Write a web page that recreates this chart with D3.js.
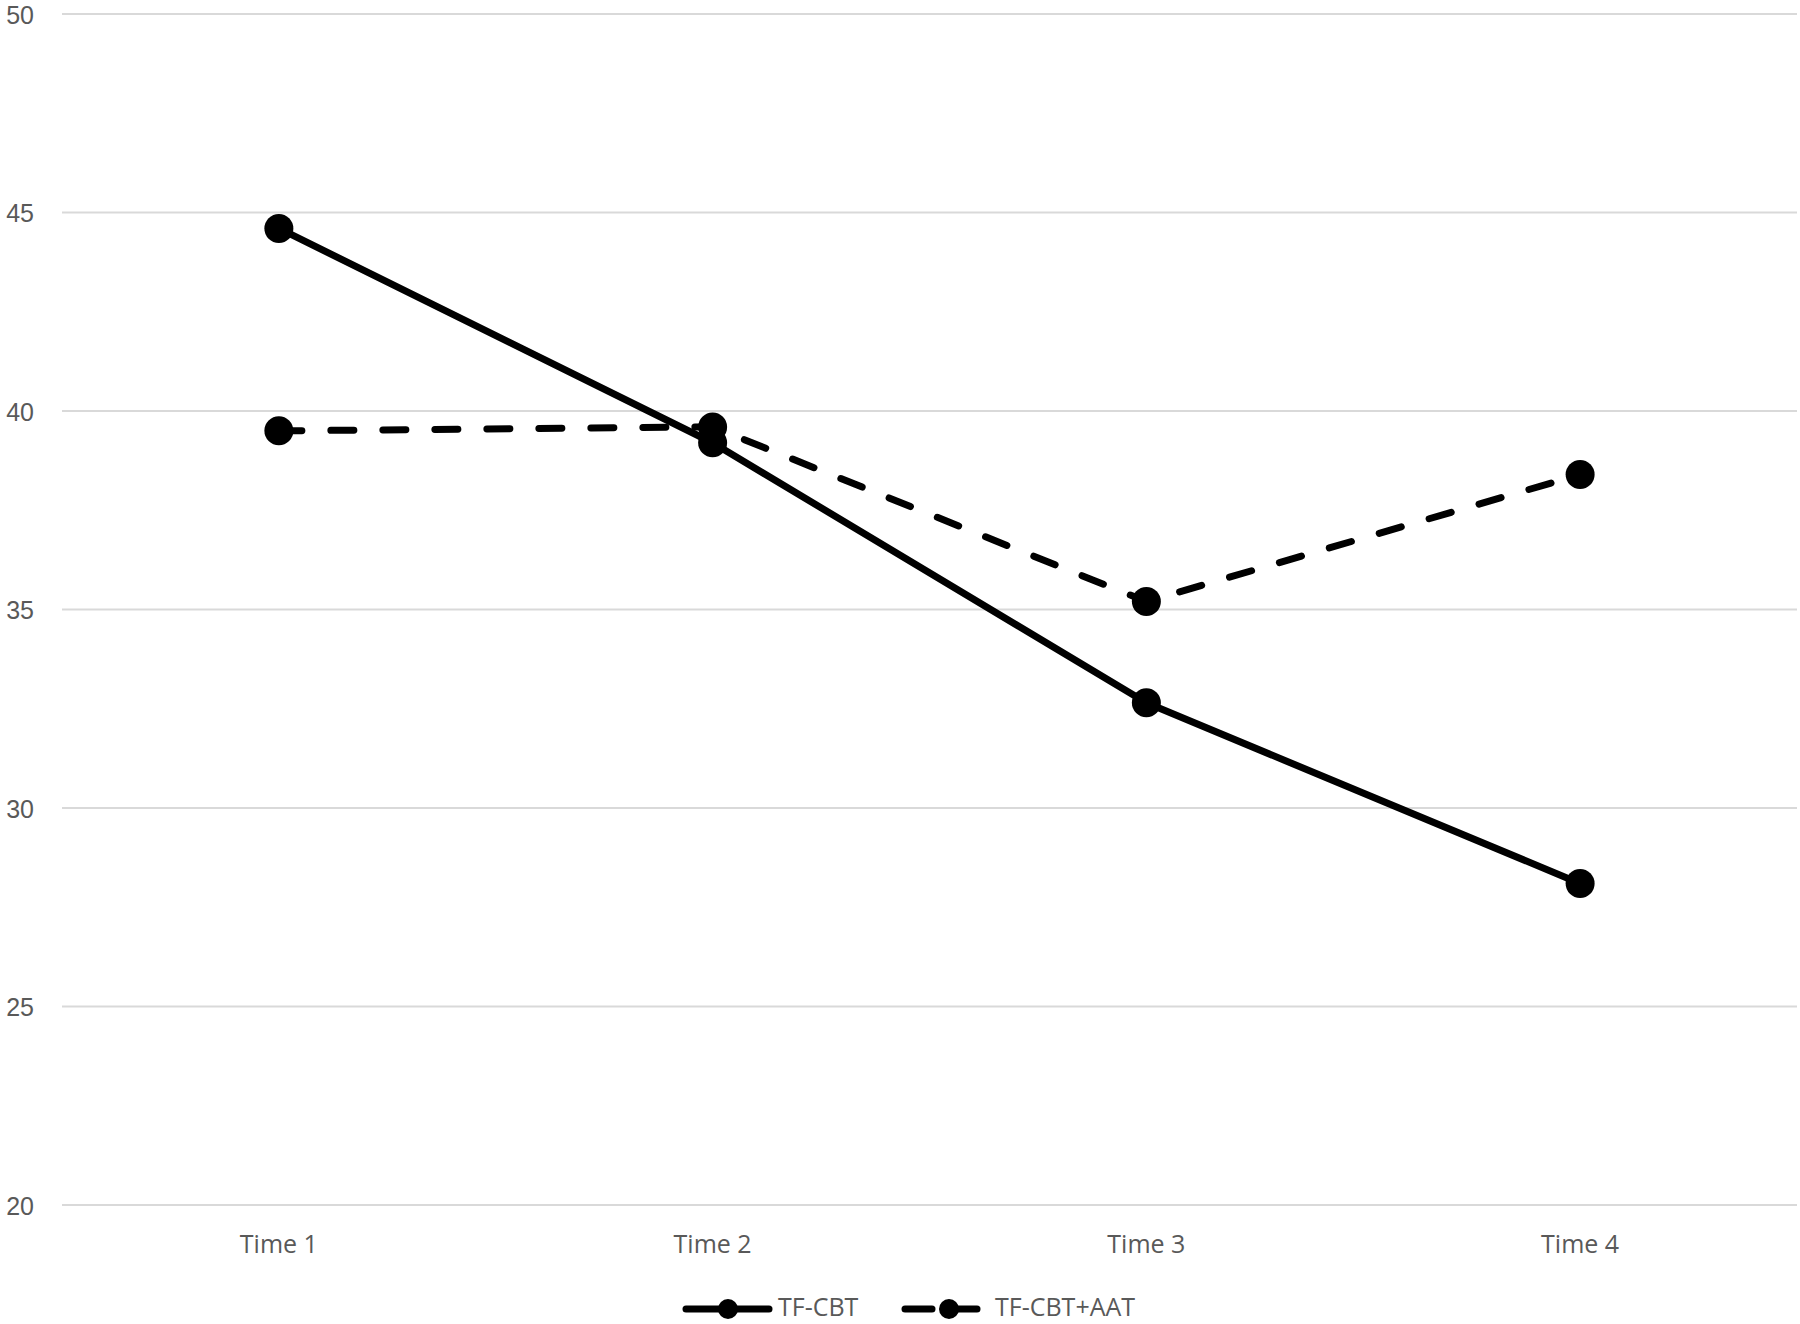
<!DOCTYPE html>
<html><head><meta charset="utf-8">
<script src="https://cdn.jsdelivr.net/npm/d3@7/dist/d3.min.js"></script>
<style>body{margin:0;background:#fff}svg{display:block}</style>
</head><body>
<script>
const categories = ["Time 1","Time 2","Time 3","Time 4"];
const tfcbt = [44.6, 39.2, 32.65, 28.1];
const tfcbtAat = [39.5, 39.6, 35.2, 38.4];
const yTicks = [20,25,30,35,40,45,50];
const seriesNames = ["TF-CBT","TF-CBT+AAT"];

const W=1800,H=1324;
const svg=d3.select("body").append("svg").attr("width",W).attr("height",H);
const font="'Open Sans', sans-serif";
const x=d3.scaleBand().domain(categories).range([62,1797]);
const y=d3.scaleLinear().domain([20,50]).range([1205,14]);

// gridlines
svg.append("g").selectAll("line").data(yTicks).join("line")
  .attr("x1",62).attr("x2",1797).attr("y1",d=>y(d)).attr("y2",d=>y(d))
  .attr("stroke","#d9d9d9").attr("stroke-width",2);

// y labels
svg.append("g").selectAll("text").data(yTicks).join("text")
  .attr("x",34).attr("y",d=>y(d)+9.5).attr("text-anchor","end")
  .attr("font-family","'Liberation Sans', sans-serif").attr("font-size",25).attr("fill","#595959").text(d=>d);

// x labels
svg.append("g").selectAll("text").data(categories).join("text")
  .attr("x",d=>x(d)+x.bandwidth()/2).attr("y",1253).attr("text-anchor","middle")
  .attr("font-family",font).attr("font-size",25).attr("fill","#595959").text(d=>d);

const cx=(d,i)=>x(categories[i])+x.bandwidth()/2;
const line=d3.line().x(cx).y(d=>y(d));
const dash="23,29";

svg.append("path").datum(tfcbt).attr("d",line).attr("fill","none")
  .attr("stroke","#000").attr("stroke-width",7).attr("stroke-linecap","round").attr("stroke-linejoin","round");
svg.append("path").datum(tfcbtAat).attr("d",line).attr("fill","none")
  .attr("stroke","#000").attr("stroke-width",7).attr("stroke-linecap","round").attr("stroke-dasharray",dash);

[tfcbt,tfcbtAat].forEach(s=>{
  svg.append("g").selectAll("circle").data(s).join("circle")
    .attr("cx",cx).attr("cy",d=>y(d)).attr("r",14.5).attr("fill","#000");
});

// legend
const ly=1309;
const lg=svg.append("g");
lg.append("line").attr("x1",686).attr("x2",769).attr("y1",ly).attr("y2",ly)
  .attr("stroke","#000").attr("stroke-width",7).attr("stroke-linecap","round");
lg.append("circle").attr("cx",728).attr("cy",ly).attr("r",10).attr("fill","#000");
lg.append("text").attr("x",778).attr("y",1316)
  .attr("font-family",font).attr("font-size",25).attr("fill","#595959").text(seriesNames[0]);
lg.append("line").attr("x1",905).attr("x2",932).attr("y1",ly).attr("y2",ly)
  .attr("stroke","#000").attr("stroke-width",7).attr("stroke-linecap","round");
lg.append("line").attr("x1",950).attr("x2",977).attr("y1",ly).attr("y2",ly)
  .attr("stroke","#000").attr("stroke-width",7).attr("stroke-linecap","round");
lg.append("circle").attr("cx",949).attr("cy",ly).attr("r",10).attr("fill","#000");
lg.append("text").attr("x",995).attr("y",1316)
  .attr("font-family",font).attr("font-size",25).attr("fill","#595959").text(seriesNames[1]);
</script>
</body></html>
